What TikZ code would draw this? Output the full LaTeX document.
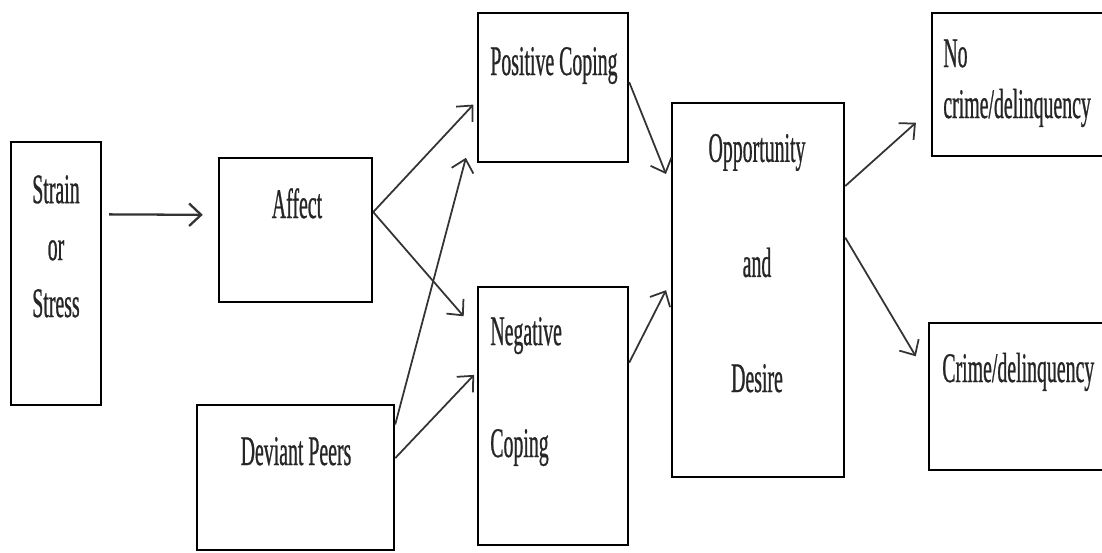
\documentclass[tikz,border=0pt]{standalone}
\usepackage{fontspec}
\newfontfamily\boxfont[FakeStretch=0.47, FakeBold=0.6]{Liberation Serif}
\usetikzlibrary{positioning, arrows.meta}

\begin{document}
\begin{tikzpicture}[
    x=0.02cm, y=-0.02cm,
    block/.style={draw, line width=1.4pt, inner sep=0pt},
    lbl/.style={inner sep=0pt, text=black!85, font=\boxfont\fontsize{24}{28}\selectfont},
    arr/.style={-{Straight Barb[length=2.4mm, width=4.5mm]}, line width=1pt, black!80}
]
\clip (0,0) rectangle (1102,552);

% --- Boxes ---
\node[block, minimum width=1.8cm, minimum height=5.26cm] (strain) at (56,273.5) {};
\node[block, minimum width=3.06cm, minimum height=2.88cm] (affect) at (295.5,230) {};
\node[block, minimum width=3.94cm, minimum height=2.9cm] (peers) at (295.5,477.5) {};
\node[block, minimum width=3cm, minimum height=2.98cm] (pos) at (553,87.5) {};
\node[block, minimum width=3cm, minimum height=5.16cm] (neg) at (553,416) {};
\node[block, minimum width=3.44cm, minimum height=7.48cm] (opp) at (758,290) {};
\node[block, minimum width=3.66cm, minimum height=2.86cm] (nocrime) at (1023.5,84.5) {};
\node[block, minimum width=3.72cm, minimum height=2.94cm] (crime) at (1022,396.5) {};

% --- Box texts (base = last line) ---
\node[lbl, align=center, anchor=base] (strain-txt) at (56,317) {Strain\\[4.4pt]or\\[4.4pt]Stress};
\node[lbl, anchor=base] (affect-txt) at (297,218) {Affect};
\node[lbl, anchor=base] (peers-txt) at (296,465) {Deviant Peers};
\node[lbl, anchor=base west] (pos-txt) at (490,75) {Positive Coping};
\node[lbl, align=left, anchor=base west] (neg-txt) at (490,457) {Negative\\[35.7pt]Coping};
\node[lbl, align=center, anchor=base] (opp-txt) at (757,392) {Opportunity\\[37.5pt]and\\[37.5pt]Desire};
\node[lbl, align=left, anchor=base west] (nocrime-txt) at (943,118) {No\\[1pt]crime/delinquency};
\node[lbl, anchor=base west] (crime-txt) at (942,382) {Crime/delinquency};

% --- Arrows ---
\draw[arr, line width=1.3pt, shorten <=0.14cm, shorten >=0.3cm] (strain.52) -- (affect.169.8);
\draw[arr, shorten >=0.1cm] (affect.13) -- (pos.190.3);
\draw[arr, shorten >=0.4cm] (affect.13) -- (neg.132.1);
\draw[arr, shorten >=0.85cm] (peers.28.1) -- (pos.201.5);
\draw[arr, shorten >=0.08cm] (peers.11.1) -- (neg.150.8);
\draw[arr, shorten >=0.26cm] (pos.4.2) -- (opp.130.7);
\draw[arr, shorten >=0.21cm] (neg.35.8) -- (opp.174);
\draw[arr, shorten >=0.4cm] (opp.50.7) -- (nocrime.195);
\draw[arr, shorten >=0.47cm] (opp.31.6) -- (crime.168.75);

\end{tikzpicture}
\end{document}
